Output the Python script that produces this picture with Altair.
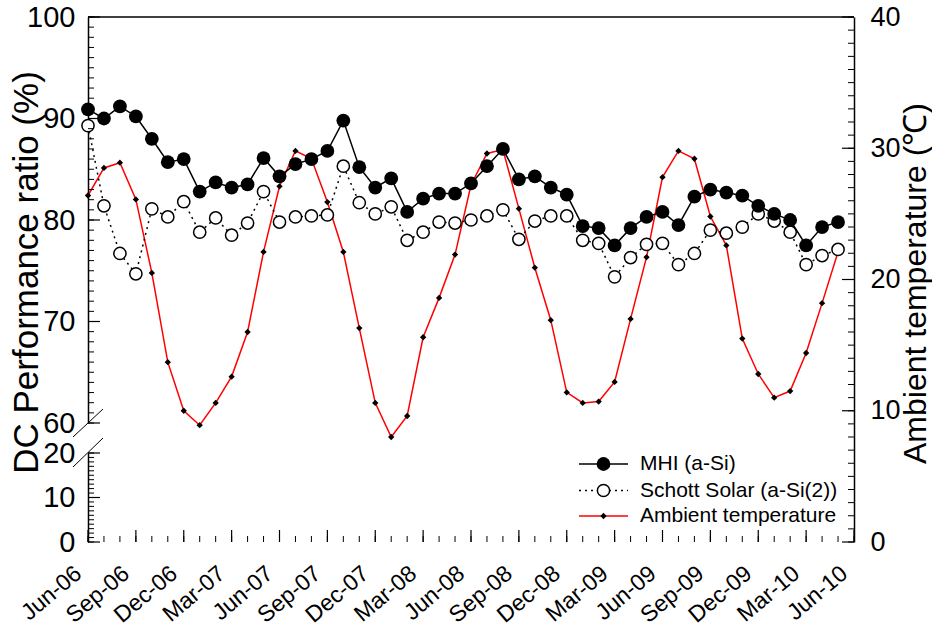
import altair as alt
import pandas as pd

FONT = "Liberation Sans"

# Monthly readings, Jun-06 .. May-10 (index 0 = Jun-06)
month_index = list(range(48))
tick_labels = ["Jun-06", "Sep-06", "Dec-06", "Mar-07", "Jun-07", "Sep-07", "Dec-07",
               "Mar-08", "Jun-08", "Sep-08", "Dec-08", "Mar-09", "Jun-09", "Sep-09",
               "Dec-09", "Mar-10", "Jun-10"]

mhi = [90.9, 90.0, 91.2, 90.2, 88.0, 85.7, 86.0, 82.8, 83.7, 83.2, 83.5, 86.1,
       84.3, 85.5, 86.0, 86.8, 89.8, 85.2, 83.2, 84.1, 80.8, 82.1, 82.6, 82.6,
       83.6, 85.3, 87.0, 84.0, 84.3, 83.2, 82.5, 79.4, 79.2, 77.5, 79.2, 80.3,
       80.8, 79.5, 82.3, 83.0, 82.7, 82.4, 81.4, 80.6, 80.0, 77.5, 79.3, 79.8]
schott = [89.3, 81.4, 76.7, 74.7, 81.1, 80.3, 81.8, 78.8, 80.2, 78.5, 79.7, 82.8,
          79.8, 80.3, 80.4, 80.5, 85.3, 81.7, 80.6, 81.3, 78.0, 78.8, 79.8, 79.7,
          80.0, 80.4, 81.0, 78.1, 79.9, 80.4, 80.4, 78.0, 77.7, 74.4, 76.3, 77.6,
          77.7, 75.6, 76.7, 79.0, 78.7, 79.3, 80.6, 79.9, 78.8, 75.6, 76.5, 77.1]
temp = [26.4, 28.5, 28.9, 26.1, 20.5, 13.7, 10.0, 8.9, 10.6, 12.6, 16.0, 22.1,
        27.1, 29.8, 29.2, 25.9, 22.1, 16.3, 10.6, 8.0, 9.6, 15.6, 18.6, 21.9,
        27.2, 29.6, 29.9, 25.4, 20.9, 16.9, 11.4, 10.6, 10.7, 12.2, 17.0, 21.7,
        27.8, 29.8, 29.2, 24.8, 22.6, 15.5, 12.8, 11.0, 11.5, 14.4, 18.2, 22.1]

series_names = ["MHI (a-Si)", "Schott Solar (a-Si(2))", "Ambient temperature"]

W, H = 766, 525
MAJOR, MINOR = 12, 6

data = pd.DataFrame({"m": month_index, "mhi": mhi, "schott": schott, "temp": temp})
x_label_df = pd.DataFrame({"m": list(range(0, 49, 3)), "label": tick_labels})

# ---- shared x (months) ----
x_scale = alt.Scale(domain=[0, 48], nice=False, zero=False)
x_axis = alt.Axis(values=list(range(0, 49, 3)), labels=False, ticks=False,
                  domainColor="black", domainWidth=1.5, grid=False, title=None)


def X(axis=None):
    return alt.X("m:Q", scale=x_scale, axis=axis)


# Each y layer carries an explicit scale, so layers that share a domain and
# range line up exactly even though the y scales are resolved independently.
def upper_scale():
    return alt.Scale(domain=[60, 100], range=[406, 0], nice=False, zero=False)


def lower_scale():
    return alt.Scale(domain=[0, 20], range=[525, 436], nice=False, zero=False)


def temp_scale():
    return alt.Scale(domain=[0, 40], range=[525, 0], nice=False, zero=False)


upper_axis = alt.Axis(
    orient="left", values=[60, 70, 80, 90, 100], ticks=False,
    labelPadding=13, labelFontSize=29, labelColor="black",
    domainColor="black", domainWidth=1.5, grid=False,
    title="DC Performance ratio (%)", titleFontSize=35, titleFontWeight="normal",
    titleColor="black", titleAngle=270, titleBaseline="alphabetic",
    titleAlign="center", titleX=-51, titleY=255,
)
lower_axis = alt.Axis(
    orient="left", values=[0, 10, 20], ticks=False, labelPadding=13,
    labelFontSize=29, labelColor="black", domainColor="black", domainWidth=1.5,
    grid=False, title=None,
)
temp_axis = alt.Axis(
    orient="right", values=[0, 10, 20, 30, 40], ticks=False,
    labelPadding=16, labelFontSize=27, labelColor="black",
    domainColor="black", domainWidth=1.5, grid=False,
    title="Ambient temperature (\u2103)", titleFontSize=32, titleFontWeight="normal",
    titleColor="black", titleAngle=270, titleBaseline="alphabetic",
    titleAlign="center", titleX=71, titleY=266,
)

base = alt.Chart(data)

# ---- ambient temperature (right axis) ----
temp_line = base.mark_line(color="#ff0000", strokeWidth=1.5).encode(
    x=X(x_axis), y=alt.Y("temp:Q", scale=temp_scale(), axis=temp_axis))
temp_pts = base.mark_point(shape="diamond", filled=True, color="black", size=40, opacity=1).encode(
    x=X(), y=alt.Y("temp:Q", scale=temp_scale(), axis=None))

# ---- performance ratios (upper left axis) ----
schott_line = base.mark_line(color="black", strokeWidth=1.5, strokeDash=[2, 4]).encode(
    x=X(), y=alt.Y("schott:Q", scale=upper_scale(), axis=upper_axis))
schott_pts = base.mark_point(shape="circle", filled=True, fill="white", stroke="black",
                             strokeWidth=1.5, size=150, opacity=1).encode(
    x=X(), y=alt.Y("schott:Q", scale=upper_scale(), axis=None))
mhi_line = base.mark_line(color="black", strokeWidth=1.5).encode(
    x=X(), y=alt.Y("mhi:Q", scale=upper_scale(), axis=None))
mhi_pts = base.mark_point(shape="circle", filled=True, color="black", size=190, opacity=1).encode(
    x=X(), y=alt.Y("mhi:Q", scale=upper_scale(), axis=None))

# ---- lower left axis below the break ----
lower_ticks = pd.DataFrame({"v": list(range(0, 21))})
lower_anchor = alt.Chart(lower_ticks).mark_point(opacity=0).encode(
    y=alt.Y("v:Q", scale=lower_scale(), axis=lower_axis), x=alt.value(0))

# ---- month labels, slanted, ending just below their tick ----
x_labels = alt.Chart(x_label_df).mark_text(
    angle=320, align="right", baseline="alphabetic", fontSize=23, color="black", font=FONT,
).encode(x=X(), y=alt.value(H + 34), text="label:N", xOffset=alt.value(-5))

# ---- inward tick marks ----
upper_ticks = pd.DataFrame({"v": list(range(60, 101))})
temp_ticks = pd.DataFrame({"v": list(range(0, 41))})
x_ticks = pd.DataFrame({"m": list(range(0, 49))})


def y_ticks(df, scale, x0, major, minor):
    mj = alt.Chart(df).transform_filter("datum.v % 10 == 0").mark_rule(
        color="black", strokeWidth=1.2).encode(
        y=alt.Y("v:Q", scale=scale(), axis=None), x=alt.value(x0), x2=alt.value(x0 + major))
    mn = alt.Chart(df).mark_rule(color="black", strokeWidth=1).encode(
        y=alt.Y("v:Q", scale=scale(), axis=None), x=alt.value(x0), x2=alt.value(x0 + minor))
    return [mn, mj]


tick_layers = (
    y_ticks(upper_ticks, upper_scale, 0, MAJOR, MINOR)
    + y_ticks(lower_ticks, lower_scale, 0, MAJOR, MINOR)
    + y_ticks(temp_ticks, temp_scale, W, -MAJOR, -MINOR)
)
tick_layers.append(alt.Chart(x_ticks).mark_rule(color="black", strokeWidth=1).encode(
    x=X(), y=alt.value(H), y2=alt.value(H - MINOR)))
tick_layers.append(alt.Chart(x_ticks).transform_filter("datum.m % 3 == 0").mark_rule(
    color="black", strokeWidth=1.2).encode(
    x=X(), y=alt.value(H), y2=alt.value(H - MAJOR)))

# ---- frame top edge and axis-break slashes ----
one = pd.DataFrame({"k": [0]})
frame = [
    alt.Chart(one).mark_rule(color="black", strokeWidth=1.5).encode(
        x=alt.value(0), x2=alt.value(W), y=alt.value(0)),
    alt.Chart(one).mark_rule(color="black", strokeWidth=1).encode(
        x=alt.value(-15), x2=alt.value(15), y=alt.value(420), y2=alt.value(392)),
    alt.Chart(one).mark_rule(color="black", strokeWidth=1).encode(
        x=alt.value(-15), x2=alt.value(15), y=alt.value(450), y2=alt.value(421)),
]

# ---- legend ----
LX0, LX1, LXM, LXT = 491, 540, 515.5, 552
rows = [447, 473.5, 499]
leg = [
    alt.Chart(one).mark_rule(color="black", strokeWidth=1.5).encode(
        x=alt.value(LX0), x2=alt.value(LX1), y=alt.value(rows[0])),
    alt.Chart(one).mark_point(shape="circle", filled=True, color="black", size=190, opacity=1).encode(
        x=alt.value(LXM), y=alt.value(rows[0])),
    alt.Chart(one).mark_rule(color="black", strokeWidth=1.5, strokeDash=[2, 4]).encode(
        x=alt.value(LX0), x2=alt.value(LX1), y=alt.value(rows[1])),
    alt.Chart(one).mark_point(shape="circle", filled=True, fill="white", stroke="black",
                              strokeWidth=1.5, size=150, opacity=1).encode(
        x=alt.value(LXM), y=alt.value(rows[1])),
    alt.Chart(one).mark_rule(color="#ff0000", strokeWidth=1.5).encode(
        x=alt.value(LX0), x2=alt.value(LX1), y=alt.value(rows[2])),
    alt.Chart(one).mark_point(shape="diamond", filled=True, color="black", size=40, opacity=1).encode(
        x=alt.value(LXM), y=alt.value(rows[2])),
]
for name, ry in zip(series_names, rows):
    leg.append(alt.Chart(one).mark_text(align="left", baseline="middle", fontSize=21,
                                        color="black", font=FONT).encode(
        x=alt.value(LXT), y=alt.value(ry), text=alt.value(name)))

chart = alt.layer(
    temp_line, temp_pts, lower_anchor,
    schott_line, schott_pts, mhi_line, mhi_pts,
    x_labels, *tick_layers, *frame, *leg,
).resolve_scale(y="independent").properties(
    width=W, height=H,
    padding={"left": 88, "top": 17, "right": 78, "bottom": 85},
    autosize=alt.AutoSizeParams(type="none"),
    background="white",
).configure(font=FONT).configure_view(stroke=None).configure_axis(
    labelFont=FONT, titleFont=FONT)

chart.save("out.html", embed_options={"renderer": "svg", "actions": False})
